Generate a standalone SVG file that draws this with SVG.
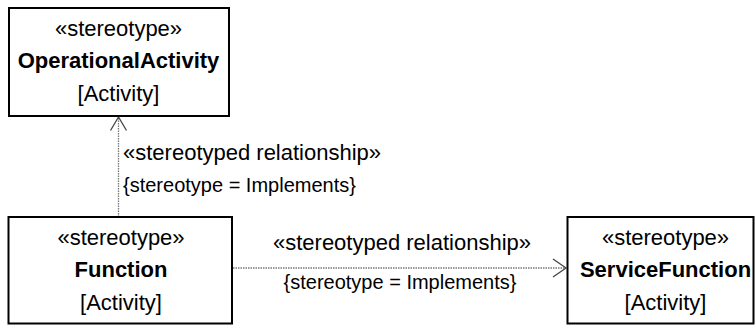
<svg xmlns="http://www.w3.org/2000/svg" width="756" height="325" viewBox="0 0 756 325">
<style>
.box{fill:#fff;stroke:#000;stroke-width:2}
.t{font-family:"Liberation Sans",Arial,sans-serif;font-size:22px;fill:#000;text-anchor:middle}
.b{font-weight:bold}
.l{font-family:"Liberation Sans",Arial,sans-serif;font-size:22px;fill:#000}
.s{font-family:"Liberation Sans",Arial,sans-serif;font-size:20px;fill:#000}
.c{fill:none;stroke:#777;stroke-width:1.3;stroke-dasharray:1.5 1}
.h{fill:none;stroke:#444;stroke-width:1.3}
</style>
<rect width="756" height="325" fill="#fff"/>
<g id="connectors">
<line class="c" x1="118.5" y1="217" x2="118.5" y2="117"/>
<polyline class="h" points="110.5,130.5 118.5,117 126.5,130.5"/>
<text class="l" x="123" y="160">«stereotyped relationship»</text>
<text class="s" x="123" y="192">{stereotype = Implements}</text>
<line class="c" x1="233" y1="268" x2="566" y2="268"/>
<polyline class="h" points="553,259 566,268 553,277"/>
<text class="t" x="402" y="250">«stereotyped relationship»</text>
<text class="s" x="400" y="289" text-anchor="middle">{stereotype = Implements}</text>
</g>
<g id="OperationalActivity">
<rect class="box" x="9" y="8" width="220" height="108"/>
<text class="t" x="118.5" y="36">«stereotype»</text>
<text class="t b" x="118.5" y="68">OperationalActivity</text>
<text class="t" x="118.5" y="101">[Activity]</text>
</g>
<g id="Function">
<rect class="box" x="8.5" y="217" width="223.5" height="106.5"/>
<text class="t" x="121" y="245">«stereotype»</text>
<text class="t b" x="121" y="277">Function</text>
<text class="t" x="121" y="310">[Activity]</text>
</g>
<g id="ServiceFunction">
<rect class="box" x="567.5" y="217" width="186" height="106.5"/>
<text class="t" x="665.5" y="245">«stereotype»</text>
<text class="t b" x="665.5" y="277">ServiceFunction</text>
<text class="t" x="665.5" y="310">[Activity]</text>
</g>
</svg>
